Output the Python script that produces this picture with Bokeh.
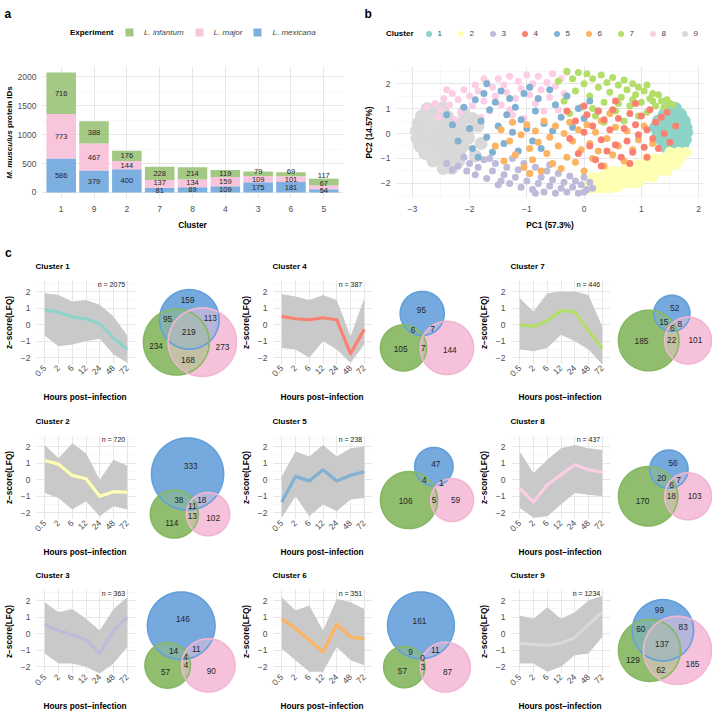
import math
import numpy as np
from bokeh.plotting import figure
from bokeh.models import Range1d, FixedTicker, Label, Legend, LegendItem, ColumnDataSource
from bokeh.layouts import row, column
from bokeh.embed import file_html
from bokeh.resources import INLINE
from bokeh.core.properties import value

FONT = "Liberation Sans"
MINUS = "\u2212"
TICK_COL = "#4d4d4d"

# ---------------- panel a: protein IDs per cluster and experiment ----------------
bar_clusters = ["1", "9", "2", "7", "8", "4", "3", "6", "5"]
ids_mexicana = [586, 379, 400, 81, 89, 109, 175, 181, 54]
ids_major = [773, 467, 144, 137, 134, 159, 109, 101, 67]
ids_infantum = [716, 388, 176, 228, 214, 119, 79, 69, 117]
experiments = ["L. infantum", "L. major", "L. mexicana"]

COL_INF = "#a3c985"
COL_MAJ = "#f8c5dc"
COL_MEX = "#7dafe0"
SET3 = {1: "#8DD3C7", 2: "#FFFFB3", 3: "#BEBADA", 4: "#FB8072", 5: "#80B1D3",
        6: "#FDB462", 7: "#B3DE69", 8: "#FCCDE5", 9: "#D9D9D9"}

# ---------------- panel b: PCA scores (PC1, PC2) by cluster ----------------
pca_points = {
    9: [(-2.74, 1.0), (-2.6, 1.0), (-2.46, 1.02), (-2.84, 0.7), (-2.69, 0.7), (-2.54, 0.72), (-2.39, 0.7),
        (-2.9, 0.4), (-2.75, 0.4), (-2.6, 0.42), (-2.45, 0.4), (-2.3, 0.38), (-2.15, 0.4),
        (-2.93, 0.1), (-2.78, 0.1), (-2.63, 0.1), (-2.48, 0.12), (-2.33, 0.1), (-2.18, 0.08), (-2.03, 0.1),
        (-2.92, -0.2), (-2.77, -0.2), (-2.62, -0.2), (-2.47, -0.2), (-2.32, -0.22), (-2.17, -0.2), (-2.02, -0.18),
        (-2.87, -0.5), (-2.72, -0.5), (-2.57, -0.5), (-2.42, -0.5), (-2.27, -0.5), (-2.12, -0.52),
        (-2.78, -0.8), (-2.63, -0.8), (-2.48, -0.8), (-2.33, -0.8), (-2.18, -0.78),
        (-2.64, -1.1), (-2.49, -1.1), (-2.34, -1.1), (-2.19, -1.12), (-2.46, -1.4), (-2.31, -1.4),
        (-1.85, 0.3), (-1.8, -0.4), (-1.95, 0.6), (-2.1, 0.85), (-1.9, -0.9)],
    1: [(1.45, 1.0), (1.6, 1.0), (1.4, 0.75), (1.55, 0.75), (1.69, 0.75),
        (1.3, 0.5), (1.45, 0.5), (1.6, 0.5), (1.75, 0.5),
        (1.25, 0.25), (1.4, 0.25), (1.55, 0.25), (1.7, 0.25), (1.78, 0.25),
        (1.3, 0.0), (1.45, 0.0), (1.6, 0.0), (1.74, 0.0), (1.79, 0.05),
        (1.35, -0.25), (1.5, -0.25), (1.65, -0.25), (1.77, -0.25),
        (1.4, -0.5), (1.55, -0.5), (1.72, -0.5), (1.5, -0.75), (1.65, -0.75)],
    2: [(1.5, -0.75), (1.65, -0.75), (1.78, -0.75),
        (1.1, -1.0), (1.25, -1.0), (1.4, -1.0), (1.55, -1.0), (1.68, -1.0),
        (0.75, -1.25), (0.9, -1.25), (1.05, -1.25), (1.2, -1.25), (1.35, -1.25), (1.5, -1.25), (1.6, -1.25),
        (0.4, -1.5), (0.55, -1.5), (0.7, -1.5), (0.85, -1.5), (1.0, -1.5), (1.15, -1.5), (1.3, -1.5), (1.45, -1.5),
        (0.15, -1.75), (0.3, -1.75), (0.45, -1.75), (0.6, -1.75), (0.75, -1.75), (0.9, -1.75), (1.05, -1.75), (1.2, -1.75),
        (0.1, -2.0), (0.25, -2.0), (0.4, -2.0), (0.55, -2.0), (0.7, -2.0), (0.85, -2.0), (0.95, -1.95),
        (0.12, -2.2), (0.27, -2.2), (0.42, -2.2), (0.57, -2.15)],
    3: [(-2.4, -1.2), (-2.3, -1.45), (-2.2, -1.3), (-2.05, -1.5), (-2.0, -1.2), (-1.9, -1.65), (-1.85, -1.35),
        (-1.75, -1.05), (-1.7, -1.8), (-1.6, -1.5), (-1.55, -1.2), (-1.45, -1.9), (-1.4, -1.65), (-1.35, -1.35),
        (-1.3, -2.0), (-1.2, -1.75), (-1.15, -1.45), (-1.1, -2.15), (-1.05, -1.2), (-1.0, -1.9), (-0.95, -1.6),
        (-0.9, -2.25), (-0.85, -1.35), (-0.8, -2.0), (-0.75, -1.75), (-0.7, -2.35), (-0.65, -1.5), (-0.6, -2.1),
        (-0.55, -1.85), (-0.5, -2.4), (-0.45, -1.6), (-0.4, -2.2), (-0.35, -1.95), (-0.3, -2.35), (-0.25, -1.7),
        (-0.2, -2.15), (-0.15, -1.9), (-0.1, -2.4), (-0.05, -2.05), (0.0, -1.75), (0.05, -2.25), (0.1, -1.95),
        (0.15, -2.2), (-1.65, -1.0), (-1.25, -1.0), (-0.6, -1.25), (-2.1, -0.95), (-1.5, -2.05), (-0.85, -2.4),
        (0.0, -2.35)],
    8: [(-2.75, 1.05), (-2.6, 1.2), (-2.5, 0.95), (-2.45, 1.4), (-2.35, 1.15), (-2.3, 1.6), (-2.2, 1.35),
        (-2.15, 0.85), (-2.1, 1.75), (-2.0, 1.5), (-1.95, 1.1), (-1.9, 1.95), (-1.85, 1.7), (-1.75, 1.3),
        (-1.7, 2.05), (-1.65, 0.9), (-1.6, 1.85), (-1.55, 1.5), (-1.5, 2.2), (-1.45, 1.15), (-1.4, 1.95),
        (-1.35, 1.65), (-1.3, 2.3), (-1.25, 0.75), (-1.2, 1.4), (-1.15, 2.1), (-1.1, 1.8), (-1.0, 2.35),
        (-0.95, 1.55), (-0.9, 2.0), (-0.85, 1.2), (-0.8, 2.3), (-0.75, 1.75), (-0.65, 2.05), (-0.6, 1.45),
        (-0.55, 2.4), (-0.5, 1.9), (-0.45, 0.95), (-0.4, 2.2), (-0.35, 1.6), (-2.55, 0.65), (-2.25, 0.55),
        (-1.8, 0.65), (-1.05, 0.6), (-0.7, 0.9), (-2.4, 1.75), (-1.75, 2.2), (-1.3, 0.95), (-0.3, 2.45)],
    7: [(-0.35, 1.3), (-0.3, 2.5), (-0.25, 0.8), (-0.2, 2.2), (-0.15, 1.7), (-0.1, 2.45), (-0.05, 1.05),
        (0.0, 2.0), (0.05, 2.4), (0.1, 1.5), (0.15, 2.2), (0.2, 0.7), (0.25, 1.85), (0.3, 2.35), (0.35, 1.25),
        (0.4, 2.05), (0.45, 1.65), (0.5, 2.25), (0.55, 0.9), (0.6, 1.95), (0.65, 1.45), (0.7, 2.15),
        (0.75, 1.75), (0.8, 1.1), (0.85, 2.0), (0.9, 1.55), (0.95, 1.85), (1.0, 1.25), (1.05, 1.7),
        (1.1, 1.95), (1.15, 1.4), (1.2, 1.6), (1.25, 1.1), (1.3, 1.55), (1.35, 1.3), (1.4, 1.05),
        (1.45, 1.35), (1.5, 1.2), (1.55, 1.15), (0.7, 0.5), (0.95, 0.7), (1.1, 0.85), (-0.45, 2.1),
        (0.35, 0.45), (0.15, 1.0), (0.6, 1.2), (1.2, 1.3), (0.85, 1.35)],
    5: [(-2.4, 0.75), (-2.3, 0.35), (-2.2, -0.3), (-2.1, 1.05), (-2.0, 0.2), (-1.95, -0.6), (-1.9, 1.35),
        (-1.8, 0.5), (-1.75, 1.6), (-1.7, -0.15), (-1.65, 0.95), (-1.6, -0.75), (-1.55, 1.25), (-1.5, 0.3),
        (-1.45, 1.7), (-1.4, -0.4), (-1.35, 0.75), (-1.3, 1.4), (-1.25, 0.05), (-1.2, 1.05), (-1.15, -0.7),
        (-1.1, 0.55), (-1.05, 1.6), (-1.0, 0.2), (-0.95, 1.85), (-0.9, -0.3), (-0.85, 0.9), (-0.8, 1.4),
        (-0.7, 0.4), (-0.6, 1.75), (-0.55, 0.1), (-0.5, 1.15), (-0.4, 0.65), (-0.3, 1.5), (-0.2, 0.25),
        (-0.1, 1.0), (0.0, 0.6), (0.1, 1.3), (0.25, 0.9), (-1.7, 2.0), (-0.75, -0.6), (-1.85, -0.95)],
    6: [(-1.55, -0.5), (-1.45, 0.15), (-1.4, -1.1), (-1.3, -0.3), (-1.25, 0.45), (-1.2, -0.85), (-1.1, -0.05),
        (-1.05, -1.35), (-1.0, 0.35), (-0.95, -0.6), (-0.9, -1.05), (-0.85, 0.1), (-0.8, -0.35), (-0.75, -1.5),
        (-0.7, 0.5), (-0.65, -0.8), (-0.6, -0.15), (-0.55, -1.2), (-0.5, 0.3), (-0.45, -0.5), (-0.4, -1.4),
        (-0.35, 0.0), (-0.3, -0.95), (-0.25, 0.45), (-0.2, -0.3), (-0.15, -1.15), (-0.1, 0.15), (-0.05, -0.65),
        (0.0, -1.5), (0.05, 0.35), (0.1, -0.4), (0.15, -1.0), (0.2, 0.05), (0.25, -0.7), (0.3, 0.5),
        (0.35, -1.3), (0.4, -0.2), (0.5, -0.85), (0.55, 0.25), (0.6, -0.5), (0.7, -1.1), (0.75, 0.1),
        (0.85, -0.65), (0.95, -0.25), (0.45, 0.8), (-0.95, -1.6), (1.05, 0.3), (1.2, -0.4)],
    4: [(-0.25, -0.2), (-0.15, 0.5), (-0.1, -0.8), (0.0, 0.05), (0.05, 0.75), (0.1, -0.5), (0.15, 0.3),
        (0.2, -1.05), (0.25, 0.9), (0.3, -0.25), (0.35, 0.55), (0.4, -0.7), (0.45, 0.15), (0.5, 0.95),
        (0.55, -0.45), (0.6, 0.6), (0.65, -0.95), (0.7, 0.2), (0.75, -0.3), (0.8, 0.8), (0.85, -0.75),
        (0.9, 0.35), (0.95, -0.05), (1.0, 0.7), (1.05, -0.55), (1.1, 0.15), (1.15, 0.95), (1.2, -0.2),
        (1.25, 0.45), (1.3, -0.6), (1.35, 0.65), (1.4, 0.0), (1.45, 0.85), (1.5, -0.35), (0.55, 1.3),
        (0.9, 1.2), (0.3, -1.3), (0.8, -1.2), (1.6, 0.3), (1.1, -0.95), (0.0, 1.1), (-0.3, 0.9)],
}
pca_draw_order = [9, 1, 2, 3, 8, 7, 5, 6, 4]
pca_marker_size = {9: 13, 1: 13, 2: 11, 3: 7, 4: 7, 5: 7, 6: 7, 7: 7, 8: 7}

# ---------------- panel c: z-scored LFQ profiles ----------------
hours = ["0.5", "2", "6", "12", "24", "48", "72"]
cluster_n = {1: 2075, 2: 720, 3: 363, 4: 387, 5: 238, 6: 351, 7: 446, 8: 437, 9: 1234}
profile_mean = {
    1: [0.9, 0.76, 0.46, 0.36, 0.06, -0.8, -1.5],
    2: [1.16, 0.94, 0.26, 0.06, -1.0, -0.72, -0.76],
    3: [0.56, 0.2, -0.06, -0.36, -1.2, 0.2, 1.0],
    4: [0.5, 0.36, 0.3, 0.42, 0.3, -1.74, -0.28],
    5: [-1.35, 0.2, -0.07, 0.6, -0.07, 0.27, 0.48],
    6: [0.9, 0.32, -0.38, -1.1, 0.56, -0.2, -0.3],
    7: [0.0, -0.1, 0.22, 0.86, 0.76, -0.34, -1.44],
    8: [-0.5, -1.35, -0.3, 0.3, 0.9, 0.6, 0.45],
    9: [-0.58, -0.64, -0.7, -0.58, -0.24, 0.56, 1.32],
}
profile_upper = {
    1: [1.9, 1.8, 1.4, 1.5, 1.2, 0.5, -0.65],
    2: [2.1, 1.3, 2.2, 1.6, 0.0, 1.2, 0.85],
    3: [1.9, 1.3, 1.5, 0.9, 0.2, 1.5, 2.2],
    4: [1.85, 1.7, 1.5, 1.8, 1.5, -0.7, 1.6],
    5: [0.2, 1.7, 1.4, 2.1, 1.4, 1.9, 2.0],
    6: [2.2, 1.4, 1.7, 0.2, 2.1, 1.9, 1.5],
    7: [1.6, 0.8, 1.9, 2.0, 2.0, 1.8, -0.1],
    8: [1.7, 0.4, 1.2, 1.9, 2.1, 1.9, 1.8],
    9: [1.1, 0.9, 1.6, 0.9, 1.3, 2.0, 2.3],
}
profile_lower = {
    1: [-0.65, -1.3, -1.2, -1.0, -0.85, -1.8, -2.3],
    2: [-0.8, -1.1, -1.8, -1.3, -2.2, -1.6, -1.8],
    3: [-1.2, -1.8, -1.8, -2.0, -2.4, -1.8, -0.8],
    4: [-1.4, -1.5, -2.0, -1.0, -1.5, -2.3, -1.2],
    5: [-2.3, -1.0, -2.2, -1.5, -1.9, -1.2, -1.1],
    6: [-0.9, -1.6, -2.3, -2.3, -0.8, -1.6, -1.9],
    7: [-1.5, -1.6, -1.4, -0.6, -1.0, -1.5, -2.4],
    8: [-1.7, -2.3, -2.2, -1.5, -0.8, -0.9, -1.0],
    9: [-1.8, -1.8, -2.3, -2.0, -1.3, -1.2, -0.2],
}
# Euler regions: mexicana only, infantum only, major only, mex&inf, mex&maj, inf&maj, all three
# (None: region present in the counts but not labelled)
venn_regions = {
    1: (159, 234, 273, 95, 113, 168, 219),
    2: (333, 114, 102, 38, 18, 13, 11),
    3: (146, 57, 90, 14, 11, 4, 4),
    4: (95, 105, 144, 6, 7, 7, None),
    5: (47, 106, 59, 4, 1, 5, None),
    6: (161, 57, 87, 9, 11, 3, 0),
    7: (52, 185, 101, 15, 8, 22, 6),
    8: (56, 170, 103, 20, 7, 18, 6),
    9: (99, 129, 185, 60, 83, 62, 137),
}
VENN_RGB = {"mex": (118, 170, 222), "inf": (144, 190, 110), "maj": (246, 194, 219)}
VENN_EDGE = {"mex": "#62a0dc", "inf": "#86b862", "maj": "#f2b6d2"}


# ---------------- helpers ----------------
def styled_figure(w, h, xr, yr, left, right, top, bottom):
    p = figure(width=w, height=h, x_range=xr, y_range=yr, output_backend="svg",
               toolbar_location=None, min_border_left=left, min_border_right=right,
               min_border_top=top, min_border_bottom=bottom, title_location=None)
    p.outline_line_color = None
    p.border_fill_color = "white"
    p.background_fill_color = "white"
    return p


def gg_axes(p, size="8.5px"):
    for ax in (p.xaxis[0], p.yaxis[0]):
        ax.axis_line_color = None
        ax.major_tick_line_color = None
        ax.minor_tick_line_color = None
        ax.major_tick_out = 0
        ax.major_tick_in = 0
        ax.minor_tick_out = 0
        ax.minor_tick_in = 0
        ax.major_label_text_color = TICK_COL
        ax.major_label_text_font = FONT
        ax.major_label_text_font_size = size
        ax.axis_label_text_font = FONT
        ax.axis_label_text_font_style = "bold"
        ax.axis_label_text_font_size = "8.3px"
        ax.axis_label_text_color = "black"
    for g in (p.xgrid[0], p.ygrid[0]):
        g.grid_line_color = "#e6e6e6"
        g.grid_line_width = 1
        g.minor_grid_line_color = "#f2f2f2"
        g.minor_grid_line_width = 0.6


def bare(w, h, xr, yr):
    # frame fills the whole figure: no axes, no title, no borders
    s = figure(frame_width=w, frame_height=h, x_range=xr, y_range=yr,
               x_axis_type=None, y_axis_type=None, output_backend="svg",
               toolbar_location=None, min_border=0, title_location=None)
    s.outline_line_color = None
    s.border_fill_color = "white"
    s.background_fill_color = "white"
    return s


def strip(w, h):
    # text band: one data unit is one pixel
    return bare(w, h, Range1d(0, w), Range1d(0, h))


def write(s, h, x, y, text, size="8.3px", style="bold", align="center",
          baseline="middle", angle=0.0, color="black"):
    # x, y measured in pixels from the band's top-left corner
    s.text(x=[x], y=[h - y], text=[text], text_font=value(FONT), text_font_size=value(size),
           text_font_style=value(style), text_align=align, text_baseline=baseline,
           angle=angle, text_color=color)


def minus_labels(ticks):
    return {t: (MINUS + str(abs(t)) if t < 0 else str(t)) for t in ticks}


# ---------------- header band: panel letters and legends ----------------
TOP_H = 66
top = strip(712, TOP_H)
write(top, TOP_H, 4, 13.5, "a", size="12px", align="left", baseline="alphabetic")
write(top, TOP_H, 364, 13.5, "b", size="12px", align="left", baseline="alphabetic")
write(top, TOP_H, 113, 32, "Experiment", size="8px", align="right")
write(top, TOP_H, 413, 33, "Cluster", size="8px", align="right")
# legend keys: renderers whose single point sits outside the band, so only the keys show
exp_cols = [COL_INF, COL_MAJ, COL_MEX]
exp_items = []
for lab, col in zip(experiments, exp_cols):
    r = top.vbar(x=[-500], top=[-500], bottom=[-501], width=1, fill_color=col, line_color=None)
    exp_items.append(LegendItem(label=lab, renderers=[r]))
top.add_layout(Legend(items=exp_items, orientation="horizontal", location=(124, TOP_H - 37),
                      glyph_width=10, glyph_height=10, label_standoff=10, spacing=10, padding=0,
                      margin=0, label_height=10, background_fill_alpha=0, border_line_color=None,
                      label_text_font=FONT, label_text_font_size="8px",
                      label_text_font_style="italic"))
clu_items = []
for c in range(1, 10):
    r = top.scatter(x=[-500], y=[-500], size=6, fill_color=SET3[c], line_color=None)
    clu_items.append(LegendItem(label=str(c), renderers=[r]))
top.add_layout(Legend(items=clu_items, orientation="horizontal", location=(420.5, TOP_H - 40.5),
                      glyph_width=15, glyph_height=15, label_standoff=2, label_width=10, spacing=5,
                      padding=0, margin=0, label_height=10, background_fill_alpha=0,
                      border_line_color=None, label_text_font=FONT, label_text_font_size="8px"))

# ---------------- panel a ----------------
ROW1_H = 178
ya = strip(14, ROW1_H)
write(ya, ROW1_H, 9, 129.8 - TOP_H, "M. musculus", size="8px", style="bold italic",
      align="right", angle=math.pi / 2)
write(ya, ROW1_H, 9, 127.5 - TOP_H, "protein IDs", size="8px", align="left", angle=math.pi / 2)

pa = styled_figure(346, ROW1_H, Range1d(0.4, 9.6), Range1d(-104, 2179), 26, 17, 0, 46)
gg_axes(pa, "8.5px")
xpos = list(range(1, len(bar_clusters) + 1))
bar_src = ColumnDataSource(dict(x=xpos, mex=ids_mexicana, maj=ids_major, inf=ids_infantum))
pa.vbar_stack(["mex", "maj", "inf"], x="x", width=0.9, source=bar_src,
              color=[COL_MEX, COL_MAJ, COL_INF], line_color=None)
pa.xaxis.ticker = FixedTicker(ticks=xpos)
pa.xaxis.major_label_overrides = {i: c for i, c in zip(xpos, bar_clusters)}
pa.xaxis.major_label_standoff = 7
pa.xaxis.axis_label = "Cluster"
pa.xaxis.axis_label_standoff = 5
pa.yaxis.ticker = FixedTicker(ticks=[0, 500, 1000, 1500, 2000], minor_ticks=[250, 750, 1250, 1750])
pa.yaxis.major_label_standoff = 5
pa.xgrid.minor_grid_line_color = None

lx, ly, lt = [], [], []
for i in range(len(bar_clusters)):
    base, prev = 0, None
    for v in (ids_mexicana[i], ids_major[i], ids_infantum[i]):
        mid = base + v / 2
        y = mid if prev is None else max(mid, prev + 135)
        lx.append(xpos[i]); ly.append(y); lt.append(str(v))
        prev = y
        base += v
pa.text(x=lx, y=ly, text=lt, text_font=value(FONT), text_font_size="7.5px",
        text_align="center", text_baseline="middle", text_color="#262626")

# ---------------- panel b ----------------
pb = styled_figure(352, ROW1_H, Range1d(-3.277, 2.087), Range1d(-2.606, 2.687), 33, 9, 0, 46)
gg_axes(pb, "8.5px")
xt = [-3, -2, -1, 0, 1, 2]
yt = [-2, -1, 0, 1, 2]
pb.xaxis.ticker = FixedTicker(ticks=xt, minor_ticks=[-2.5, -1.5, -0.5, 0.5, 1.5])
pb.xaxis.major_label_overrides = minus_labels(xt)
pb.xaxis.major_label_standoff = 7
pb.xaxis.axis_label = "PC1 (57.3%)"
pb.xaxis.axis_label_standoff = 5
pb.yaxis.ticker = FixedTicker(ticks=yt, minor_ticks=[-2.5, -1.5, -0.5, 0.5, 1.5, 2.5])
pb.yaxis.major_label_overrides = minus_labels(yt)
pb.yaxis.major_label_standoff = 6
pb.yaxis.axis_label = "PC2 (14.57%)"
pb.yaxis.axis_label_standoff = 4
for c in pca_draw_order:
    pts = pca_points[c]
    pb.scatter([q[0] for q in pts], [q[1] for q in pts], size=pca_marker_size[c],
               fill_color=SET3[c], line_color=None)


# ---------------- panel c helpers ----------------
def lens_area(d, r1, r2):
    if d >= r1 + r2:
        return 0.0
    if d <= abs(r1 - r2):
        return math.pi * min(r1, r2) ** 2
    a1 = r1 * r1 * math.acos((d * d + r1 * r1 - r2 * r2) / (2 * d * r1))
    a2 = r2 * r2 * math.acos((d * d + r2 * r2 - r1 * r1) / (2 * d * r2))
    a3 = 0.5 * math.sqrt((-d + r1 + r2) * (d + r1 - r2) * (d - r1 + r2) * (d + r1 + r2))
    return a1 + a2 - a3


def centre_distance(overlap, r1, r2):
    lo, hi = abs(r1 - r2), r1 + r2
    if overlap <= 0:
        return hi
    for _ in range(80):
        mid = (lo + hi) / 2
        if lens_area(mid, r1, r2) > overlap:
            lo = mid
        else:
            hi = mid
    return (lo + hi) / 2


def euler_circles(cnt):
    b, g, p, bg, bp, gp, bgp = cnt
    nb, ng, npk = b + bg + bp + bgp, g + bg + gp + bgp, p + bp + gp + bgp
    rb, rg, rp = (math.sqrt(n / math.pi) for n in (nb, ng, npk))
    dbg = centre_distance(bg + bgp, rb, rg)
    dbp = centre_distance(bp + bgp, rb, rp)
    dgp = centre_distance(gp + bgp, rg, rp)
    bx = (dbg ** 2 - dbp ** 2 + dgp ** 2) / (2 * dgp)
    by = math.sqrt(max(dbg ** 2 - bx ** 2, 0.0))
    return [(bx, by, rb), (0.0, 0.0, rg), (dgp, 0.0, rp)]


def circle_outline(cx, cy, r, n=720):
    t = np.linspace(0, 2 * np.pi, n, endpoint=False)
    return cx + r * np.cos(t), cy + r * np.sin(t)


def common_area(circs):
    # intersection of discs is convex: keep outline points lying in every other disc
    px, py = [], []
    for i, (cx, cy, r) in enumerate(circs):
        xs, ys = circle_outline(cx, cy, r)
        keep = np.ones(len(xs), dtype=bool)
        for j, (ox, oy, orr) in enumerate(circs):
            if j != i:
                keep &= (xs - ox) ** 2 + (ys - oy) ** 2 <= orr ** 2
        px.extend(xs[keep].tolist()); py.extend(ys[keep].tolist())
    if len(px) < 3:
        return None
    px, py = np.array(px), np.array(py)
    order = np.argsort(np.arctan2(py - py.mean(), px - px.mean()))
    return px[order].tolist(), py[order].tolist()


def mix(keys):
    cols = [VENN_RGB[k] for k in keys]
    rgb = [int(round(sum(cc[j] for cc in cols) / len(cols))) for j in range(3)]
    return "#%02x%02x%02x" % tuple(rgb)


PATTERNS = [(1, 0, 0), (0, 1, 0), (0, 0, 1), (1, 1, 0), (1, 0, 1), (0, 1, 1), (1, 1, 1)]
SET_KEYS = ["mex", "inf", "maj"]
MID_H = 109


def venn_figure(c, w, h):
    raw = venn_regions[c]
    cnt = [0 if v is None else v for v in raw]
    circles = euler_circles(cnt)
    xmin = min(cx - r for cx, cy, r in circles); xmax = max(cx + r for cx, cy, r in circles)
    ymin = min(cy - r for cx, cy, r in circles); ymax = max(cy + r for cx, cy, r in circles)
    s = min(93.0 / (xmax - xmin), 100.0 / (ymax - ymin))
    ccx, ccy = (xmin + xmax) / 2, (ymin + ymax) / 2
    x0 = ccx - 49.5 / s; x1 = x0 + w / s
    y1 = ccy + 52.5 / s; y0 = y1 - h / s
    pv = bare(w, h, Range1d(x0, x1), Range1d(y0, y1))

    # single sets, then pairwise overlaps, then the triple overlap, each in mixed colours
    xs_all, ys_all, cols = [], [], []
    for pat in PATTERNS:
        members = [circles[k] for k in range(3) if pat[k]]
        if len(members) == 1:
            ox, oy = circle_outline(*members[0])
            poly = (ox.tolist(), oy.tolist())
        else:
            poly = common_area(members)
        if poly is None:
            continue
        xs_all.append(poly[0]); ys_all.append(poly[1])
        cols.append(mix([SET_KEYS[k] for k in range(3) if pat[k]]))
    pv.patches(xs=xs_all, ys=ys_all, fill_color=cols, line_color=None)
    rims = [circle_outline(*q) for q in circles]
    pv.patches(xs=[q[0].tolist() for q in rims], ys=[q[1].tolist() for q in rims],
               fill_color=None, line_color=[VENN_EDGE[k] for k in SET_KEYS], line_width=1.7)

    # label each region at its most interior point
    fx = np.linspace(xmin, xmax, 260)
    fy = np.linspace(ymin, ymax, 260)
    FX, FY = np.meshgrid(fx, fy)
    sd = [np.sqrt((FX - cx) ** 2 + (FY - cy) ** 2) - r for cx, cy, r in circles]
    ins = [d < 0 for d in sd]
    clear = np.minimum(np.minimum(np.abs(sd[0]), np.abs(sd[1])), np.abs(sd[2]))
    tx, ty, tt = [], [], []
    for pat, v in zip(PATTERNS, raw):
        if v is None:
            continue
        mask = np.ones_like(ins[0])
        for k in range(3):
            mask &= ins[k] if pat[k] else ~ins[k]
        if not mask.any():
            continue
        idx = np.argmax(np.where(mask, clear, -1.0))
        tx.append(float(FX.flat[idx])); ty.append(float(FY.flat[idx])); tt.append(str(v))
    pv.text(x=tx, y=ty, text=tt, text_font=value(FONT), text_font_size="8.3px",
            text_align="center", text_baseline="middle", text_color="#262626")
    return pv


def profile_figure(c, h):
    p = styled_figure(140, h, Range1d(0.4, 7.6), Range1d(-2.4, 2.67), 34, 5, 0, h - 84)
    gg_axes(p, "8.5px")
    xs = list(range(1, 8))
    p.xaxis.ticker = FixedTicker(ticks=xs)
    p.xaxis.major_label_overrides = {i: t for i, t in zip(xs, hours)}
    p.xaxis.major_label_orientation = math.pi / 4
    p.xaxis.major_label_standoff = 2
    p.xgrid.minor_grid_line_color = None
    yt = [-2, -1, 0, 1, 2]
    p.yaxis.ticker = FixedTicker(ticks=yt, minor_ticks=[-1.5, -0.5, 0.5, 1.5, 2.5])
    p.yaxis.major_label_overrides = minus_labels(yt)
    p.yaxis.major_label_standoff = 6
    p.yaxis.axis_label = f"z{MINUS}score(LFQ)"
    p.yaxis.axis_label_standoff = 4
    p.varea(x=xs, y1=profile_lower[c], y2=profile_upper[c], fill_color="#c9c9c9")
    p.line(xs, profile_mean[c], line_color=SET3[c], line_width=3.2, line_join="round")
    p.add_layout(Label(x=6.85, y=2.45, text=f"n = {cluster_n[c]}", text_font=FONT,
                       text_font_size="7px", text_align="right", text_baseline="middle",
                       text_color="#1a1a1a"))
    return p


grid_order = [[1, 4, 7], [2, 5, 8], [3, 6, 9]]
col_left = [0, 237, 475]
col_widths = [237, 238, 237]
band_heights = [36, 46, 45, 14]          # bands above, between and below the profile rows
title_y = [22, 32, 31]                   # "Cluster n" line inside the band above each row
xtitle_y = 7                             # axis title line inside the band below each row

blocks = [top, row(ya, pa, pb)]
for bi, bh in enumerate(band_heights):
    band = strip(712, bh)
    if bi == 0:
        write(band, bh, 4.5, 8.5, "c", size="12px", align="left", baseline="alphabetic")
    if bi > 0:
        for ci in range(3):
            write(band, bh, col_left[ci] + 84.5, xtitle_y, f"Hours post{MINUS}infection")
    if bi < 3:
        for ci, c in enumerate(grid_order[bi]):
            write(band, bh, col_left[ci] + 35, title_y[bi], f"Cluster {c}", size="8px", align="left")
    blocks.append(band)
    if bi < 3:
        kids = []
        for ci, c in enumerate(grid_order[bi]):
            kids.append(profile_figure(c, MID_H))
            kids.append(venn_figure(c, col_widths[ci] - 140, MID_H))
        blocks.append(row(*kids))

layout = column(*blocks)
open("out.html", "w").write(file_html(layout, INLINE))
